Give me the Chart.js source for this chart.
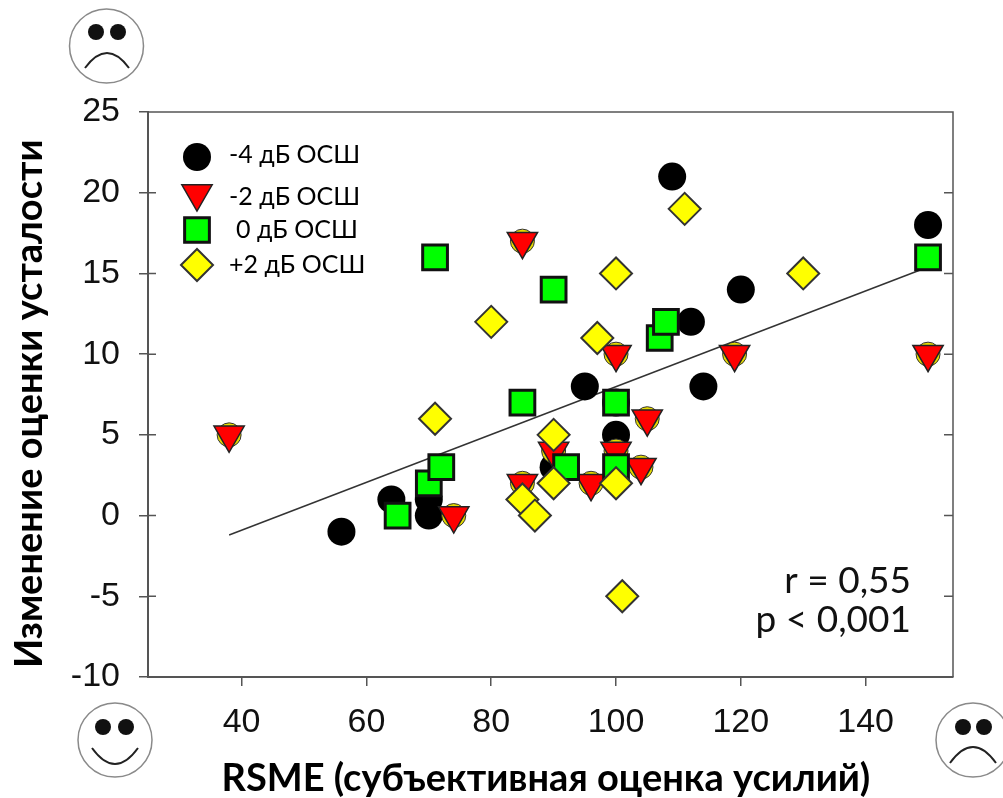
<!DOCTYPE html>
<html>
<head>
<meta charset="utf-8">
<title>RSME</title>
<script src="https://cdn.jsdelivr.net/npm/chart.js@4/dist/chart.umd.js"></script>
<style>
  body { margin: 0; background: #fff; }
  canvas { display: block; }
</style>
</head>
<body>
<canvas id="scatterChart" width="1003" height="798"></canvas>
<script>
'use strict'

// Values
const snrLabels = ['-4 дБ ОСШ', '-2 дБ ОСШ', '0 дБ ОСШ', '+2 дБ ОСШ']

const minus4X = [56, 64, 70, 70, 90, 95, 100, 100, 109, 112, 114, 120, 150]
const minus4Y = [-1, 1, 1, 0, 3, 8, 5, 7, 21, 12, 8, 14, 18]

const minus2X = [38, 74, 85, 85, 90, 96, 100, 100, 104, 105, 119, 150]
const minus2Y = [5, 0, 17, 2, 4, 2, 10, 4, 3, 6, 10, 10]

const zeroX = [65, 70, 71, 72, 85, 90, 92, 100, 100, 107, 108, 150]
const zeroY = [0, 2, 16, 3, 7, 14, 3, 7, 3, 11, 12, 16]

const plus2X = [71, 80, 85, 87, 90, 90, 97, 100, 100, 101, 111, 130]
const plus2Y = [6, 12, 1, 0, 5, 2, 11, 15, 2, -5, 19, 15]

const fitX = [38, 150]
const fitY = [-1.2, 15.4]

const statLines = ['r = 0,55', 'p < 0,001']
const xTitle = 'RSME (субъективная оценка усилий)'
const yTitle = 'Изменение оценки усталости'

const bodyFont = 'Lato, "Noto Sans", sans-serif'
const axisColor = '#555'

function points(xs, ys) {
  return xs.map((x, i) => ({x: x, y: ys[i]}))
}

const circleStyle = {pointStyle: 'circle', radius: 14, rotation: 0, borderWidth: 0, fill: '#000', stroke: '#000'}
const triangleStyle = {pointStyle: 'triangle', radius: 17.5, rotation: 180, borderWidth: 1.5, fill: '#ff0000', stroke: '#222'}
const squareStyle = {pointStyle: 'rect', radius: 17.5, rotation: 0, borderWidth: 3, fill: '#00ff00', stroke: '#111'}
const diamondStyle = {pointStyle: 'rectRot', radius: 16, rotation: 0, borderWidth: 2, fill: '#ffff00', stroke: '#333'}

function markerDataset(label, xs, ys, st, order) {
  return {
    label: label,
    data: points(xs, ys),
    order: order,
    pointStyle: st.pointStyle,
    pointRadius: st.radius,
    pointRotation: st.rotation,
    pointBorderWidth: st.borderWidth,
    pointBackgroundColor: st.fill,
    pointBorderColor: st.stroke
  }
}

// Faces, legend, stats and the frame go on the canvas after the axes
function drawFace(ctx, cx, cy, eyeY, eyeLeft, eyeRight, mouthLeft, mouthRight, mouthY, curveY) {
  ctx.beginPath()
  ctx.arc(cx, cy, 37, 0, Math.PI * 2)
  ctx.lineWidth = 1.5
  ctx.strokeStyle = '#8a8a8a'
  ctx.stroke()
  ctx.fillStyle = '#111'
  for (const ex of [eyeLeft, eyeRight]) {
    ctx.beginPath()
    ctx.arc(ex, eyeY, 8, 0, Math.PI * 2)
    ctx.fill()
  }
  ctx.beginPath()
  ctx.moveTo(mouthLeft, mouthY)
  ctx.quadraticCurveTo((mouthLeft + mouthRight) / 2, curveY, mouthRight, mouthY)
  ctx.lineWidth = 2
  ctx.strokeStyle = '#222'
  ctx.stroke()
}

function drawLegendMarker(ctx, st, x, y) {
  ctx.fillStyle = st.fill
  ctx.strokeStyle = st.stroke
  ctx.lineWidth = st.borderWidth
  Chart.helpers.drawPoint(ctx, {
    pointStyle: st.pointStyle,
    rotation: st.rotation,
    radius: st.radius,
    borderWidth: st.borderWidth
  }, x, y)
}

const extras = {
  id: 'extras',
  beforeDatasetsDraw(chart) {
    const ctx = chart.ctx
    const area = chart.chartArea
    const yScale = chart.scales.y
    ctx.save()
    ctx.strokeStyle = axisColor
    ctx.lineWidth = 1.5
    ctx.beginPath()
    ctx.moveTo(area.left, area.top)
    ctx.lineTo(area.right, area.top)
    ctx.lineTo(area.right, area.bottom)
    // inward ticks on both sides
    yScale.ticks.forEach((t) => {
      if (t.value === yScale.min || t.value === yScale.max) return
      const py = yScale.getPixelForValue(t.value)
      ctx.moveTo(area.left, py)
      ctx.lineTo(area.left + 8, py)
      ctx.moveTo(area.right - 9, py)
      ctx.lineTo(area.right, py)
    })
    ctx.stroke()
    ctx.restore()
  },
  afterDraw(chart) {
    const ctx = chart.ctx
    ctx.save()
    drawFace(ctx, 106.5, 46, 32, 96, 118, 85, 129, 68, 38)
    drawFace(ctx, 115, 740, 727, 103, 126, 92, 138, 748, 780)
    drawFace(ctx, 973, 740, 727, 963, 984, 950, 996, 763, 731)

    const legendStyles = [circleStyle, triangleStyle, squareStyle, diamondStyle]
    const markerY = [157, 193.5, 230, 265]
    const textX = [229, 229, 236, 229]
    const textY = [163, 205, 238, 273]
    legendStyles.forEach((st, i) => {
      drawLegendMarker(ctx, st, 197, markerY[i])
      ctx.fillStyle = '#000'
      ctx.font = '25px ' + bodyFont
      ctx.textAlign = 'left'
      ctx.textBaseline = 'alphabetic'
      ctx.fillText(snrLabels[i], textX[i], textY[i])
    })

    ctx.fillStyle = '#111'
    ctx.font = '37px ' + bodyFont
    ctx.textAlign = 'right'
    ctx.fillText(statLines[0], 911, 593)
    ctx.fillText(statLines[1], 911, 632)
    ctx.restore()
  }
}

new Chart(document.getElementById('scatterChart'), {
  type: 'scatter',
  data: {
    datasets: [
      markerDataset(snrLabels[3], plus2X, plus2Y, diamondStyle, 1),
      markerDataset(snrLabels[2], zeroX, zeroY, squareStyle, 2),
      markerDataset(snrLabels[1], minus2X, minus2Y, triangleStyle, 3),
      // yellow circles peek out behind the triangles
      {
        label: 'backing',
        data: points(minus2X, minus2Y),
        order: 4,
        pointStyle: 'circle',
        pointRadius: 12,
        pointBorderWidth: 1,
        pointBackgroundColor: '#e6dc00',
        pointBorderColor: '#333'
      },
      markerDataset(snrLabels[0], minus4X, minus4Y, circleStyle, 5),
      {
        label: 'fit',
        data: points(fitX, fitY),
        order: 6,
        showLine: true,
        borderColor: '#333',
        borderWidth: 1.5,
        pointRadius: 0
      }
    ]
  },
  options: {
    responsive: false,
    animation: false,
    devicePixelRatio: 1,
    layout: {padding: {top: 112, right: 50, left: 0, bottom: 0}},
    plugins: {legend: {display: false}, tooltip: {enabled: false}},
    scales: {
      x: {
        type: 'linear',
        min: 25,
        max: 154,
        afterFit(scale) { scale.height = 121 },
        border: {color: axisColor, width: 2},
        grid: {drawOnChartArea: false, color: axisColor, lineWidth: 1.5, tickLength: 9},
        ticks: {
          stepSize: 20,
          includeBounds: false,
          padding: 16,
          color: '#111',
          maxRotation: 0,
          font: {family: '"Liberation Sans", Arial, sans-serif', size: 34}
        },
        title: {
          display: true,
          // trailing nbsp nudges the centred title back a little, no offset option for it
          text: xTitle + '\u00a0',
          color: '#000',
          padding: {top: 0, bottom: 0},
          font: {family: bodyFont, size: 38, weight: 'bold', lineHeight: 1}
        }
      },
      y: {
        min: -10,
        max: 25,
        afterFit(scale) { scale.width = 148 },
        border: {color: axisColor, width: 2},
        grid: {drawOnChartArea: false, color: axisColor, lineWidth: 1.5, tickLength: 9},
        ticks: {
          stepSize: 5,
          padding: 19,
          color: '#111',
          font: {family: '"Liberation Sans", Arial, sans-serif', size: 34}
        },
        title: {
          display: true,
          text: yTitle + '\u00a0\u00a0',
          color: '#000',
          padding: {top: 11, bottom: 0},
          font: {family: bodyFont, size: 38, weight: 'bold', lineHeight: 1}
        }
      }
    }
  },
  plugins: [extras]
})
</script>
</body>
</html>
